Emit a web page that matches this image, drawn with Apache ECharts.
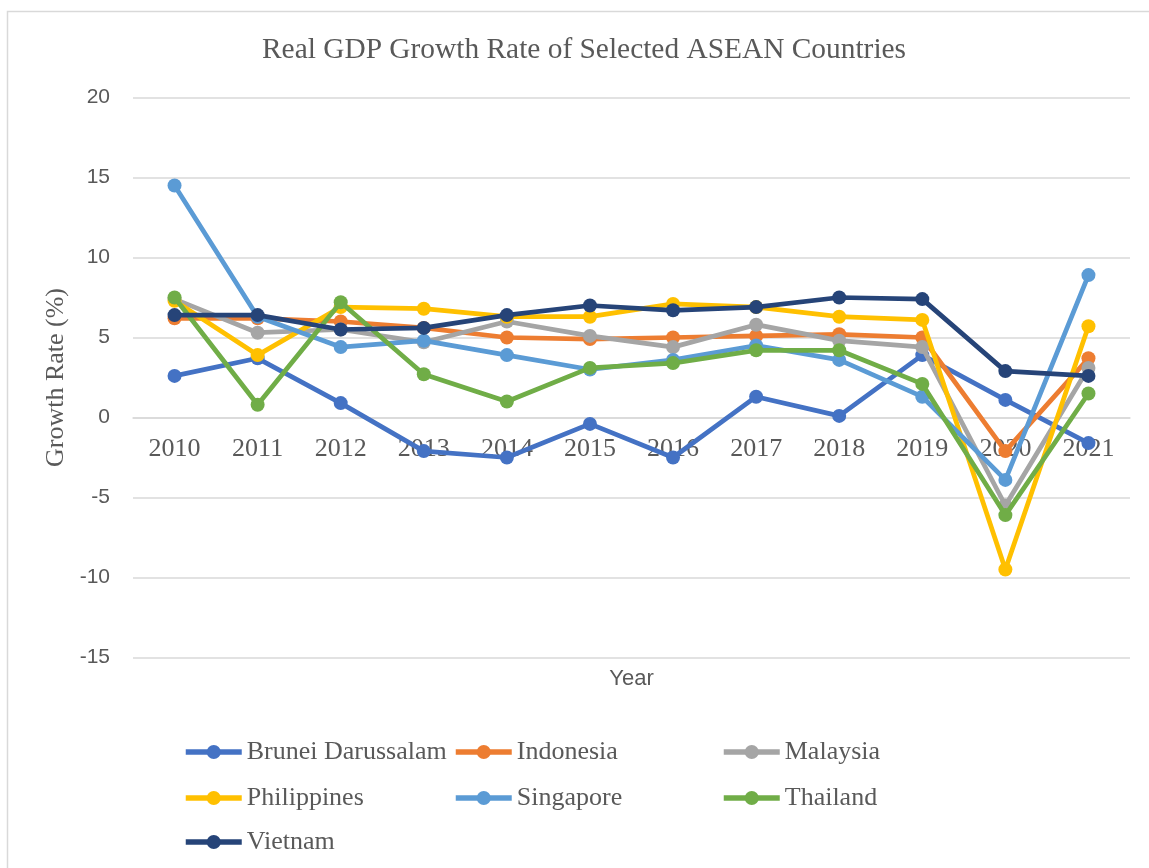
<!DOCTYPE html>
<html>
<head>
<meta charset="utf-8">
<script src="https://cdn.jsdelivr.net/npm/echarts@6/dist/echarts.min.js"></script>
<style>
html,body{margin:0;padding:0;background:#fff;}
#chart{width:1149px;height:868px;}
</style>
</head>
<body>
<div id="chart"></div>
<script>
const years = ['2010','2011','2012','2013','2014','2015','2016','2017','2018','2019','2020','2021'];
const brunei      = [2.6, 3.7, 0.9, -2.1, -2.5, -0.4, -2.5, 1.3, 0.1, 3.9, 1.1, -1.6];
const indonesia   = [6.2, 6.2, 6.0, 5.6, 5.0, 4.9, 5.0, 5.1, 5.2, 5.0, -2.1, 3.7];
const malaysia    = [7.4, 5.3, 5.5, 4.7, 6.0, 5.1, 4.4, 5.8, 4.8, 4.4, -5.5, 3.1];
const philippines = [7.3, 3.9, 6.9, 6.8, 6.3, 6.3, 7.1, 6.9, 6.3, 6.1, -9.5, 5.7];
const singapore   = [14.5, 6.3, 4.4, 4.8, 3.9, 3.0, 3.6, 4.5, 3.6, 1.3, -3.9, 8.9];
const thailand    = [7.5, 0.8, 7.2, 2.7, 1.0, 3.1, 3.4, 4.2, 4.2, 2.1, -6.1, 1.5];
const vietnam     = [6.4, 6.4, 5.5, 5.6, 6.4, 7.0, 6.7, 6.9, 7.5, 7.4, 2.9, 2.6];

const seriesNames = ['Brunei Darussalam','Indonesia','Malaysia','Philippines','Singapore','Thailand','Vietnam'];
const seriesData = [brunei, indonesia, malaysia, philippines, singapore, thailand, vietnam];
const colors = ['#4472C4','#ED7D31','#A5A5A5','#FFC000','#5B9BD5','#70AD47','#264478'];

const titleText = 'Real GDP Growth Rate of Selected ASEAN Countries';
const yTitle = 'Growth Rate (%)';
const xTitle = 'Year';
const yMin = -15, yMax = 20, yStep = 5;

const SERIF = '"Liberation Serif", "Times New Roman", serif';
const SANS = '"Liberation Sans", Arial, sans-serif';
const TXT = '#595959';

// grid geometry
const GRID_TOP = 97.5, GRID_BOTTOM = 210.5, CHART_H = 868;
const plotH = CHART_H - GRID_TOP - GRID_BOTTOM;
// the category axis crosses the value axis at 0 (Excel style)
const zeroOffset = -plotH * (0 - yMin) / (yMax - yMin);

// legend item placement (one legend per item to reproduce Excel's column grid)
const legendPos = [
  [183, 750], [453, 750], [721, 750],
  [183, 796], [453, 796], [721, 796],
  [183, 840]
];
const legends = seriesNames.map((n, i) => ({
  data: [n],
  left: legendPos[i][0],
  top: legendPos[i][1] - 11,
  padding: 0,
  itemWidth: 56,
  itemHeight: 17.5,
  selectedMode: false,
  textStyle: { fontFamily: SERIF, fontSize: 26, color: TXT },
  lineStyle: { width: 5.5 }
}));

const chart = echarts.init(document.getElementById('chart'), null, { renderer: 'canvas' });
chart.setOption({
  animation: false,
  backgroundColor: '#ffffff',
  color: colors,
  title: {
    text: titleText,
    left: 262,
    top: 36,
    padding: 0,
    textStyle: { fontFamily: SERIF, fontSize: 29.4, fontWeight: 'normal', color: TXT }
  },
  graphic: [{
    type: 'rect',
    silent: true,
    shape: { x: 7.5, y: 11.5, width: 1300, height: 1000 },
    style: { fill: 'none', stroke: '#d9d9d9', lineWidth: 1.5 },
    z: -10
  }],
  legend: legends,
  grid: { left: 133, right: 19, top: GRID_TOP, bottom: GRID_BOTTOM, containLabel: false, outerBoundsMode: 'none' },
  xAxis: {
    type: 'category',
    data: years,
    boundaryGap: true,
    offset: zeroOffset,
    name: xTitle,
    nameLocation: 'middle',
    nameGap: 250,
    nameTextStyle: { fontFamily: SANS, fontSize: 22, color: TXT },
    axisLine: { show: true, onZero: false, lineStyle: { color: '#d9d9d9', width: 1.5 } },
    axisTick: { show: false },
    axisLabel: { fontFamily: SERIF, fontSize: 26, color: TXT, margin: 19 },
    splitLine: { show: false }
  },
  yAxis: {
    type: 'value',
    min: yMin,
    max: yMax,
    interval: yStep,
    name: yTitle,
    nameLocation: 'middle',
    nameGap: 49,
    nameRotate: 90,
    nameTextStyle: { fontFamily: SERIF, fontSize: 26, color: TXT },
    axisLine: { show: false },
    axisTick: { show: false },
    axisLabel: { fontFamily: SANS, fontSize: 21, color: TXT, margin: 23 },
    splitLine: { show: true, lineStyle: { color: '#d9d9d9', width: 1.5 } }
  },
  series: seriesNames.map((n, i) => ({
    name: n,
    type: 'line',
    data: seriesData[i],
    symbol: 'circle',
    symbolSize: 14,
    showAllSymbol: true,
    lineStyle: { width: 4.75, color: colors[i] },
    itemStyle: { color: colors[i] },
    emphasis: { disabled: true },
    z: 2 + i
  }))
});
</script>
</body>
</html>
